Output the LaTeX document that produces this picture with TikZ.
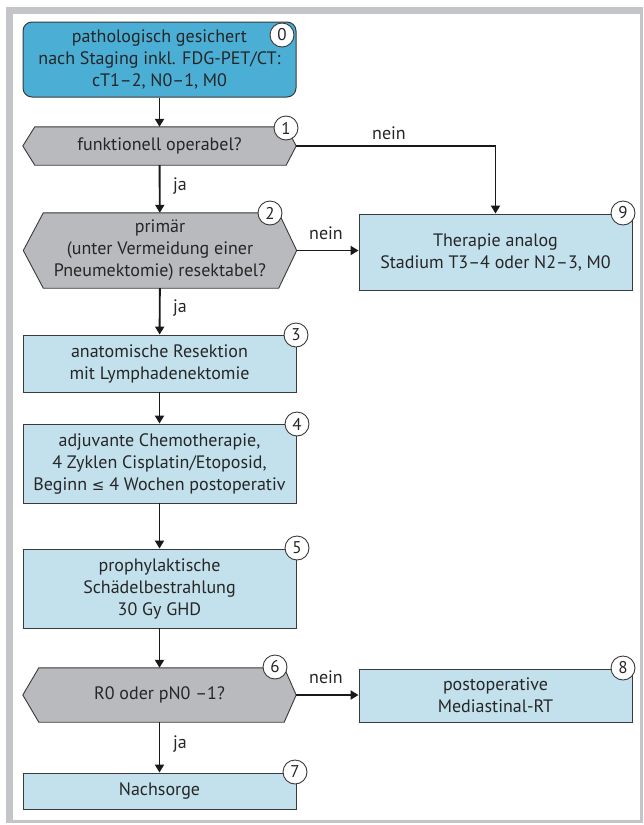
\documentclass[tikz,border=0pt]{standalone}
\usepackage{fontspec}
\setmainfont{PT Sans}
\newfontfamily\symfont{DejaVu Sans}
\usetikzlibrary{arrows.meta,backgrounds}
\definecolor{framegray}{HTML}{C4C5C8}
\definecolor{darkblue}{HTML}{4AAED5}
\definecolor{lightblue}{HTML}{C3E1ED}
\definecolor{hexgray}{HTML}{B9BABD}
\definecolor{txt}{HTML}{262626}
\definecolor{edge}{HTML}{3A3A3A}
\tikzset{
  every node/.style={text=txt, font=\fontsize{18}{22}\selectfont},
  box/.style={rectangle, draw=edge, line width=0.9pt, fill=lightblue, align=center, inner sep=0pt, minimum width=273pt},
  startbox/.style={rectangle, rounded corners=9pt, draw=edge, line width=1pt, fill=darkblue, align=center, inner sep=0pt, minimum width=273pt},
  hexbox/.style={rectangle, align=center, inner sep=0pt, minimum width=273pt},
  hexfill/.style={fill=hexgray, draw=edge, line width=0.9pt},
  numc/.style={circle, draw=edge, line width=0.9pt, fill=white, inner sep=0pt, minimum size=24pt, font=\fontsize{17}{17}\selectfont},
  arr/.style={draw=black!90, line width=1.9pt, -{Triangle[length=8pt,width=9pt]}},
  lbl/.style={inner sep=0pt},
}
\begin{document}
\begin{tikzpicture}[x=1pt,y=-1pt]
\useasboundingbox (0,0) rectangle (643,825);

\node[startbox, minimum height=75pt] (n0) at (159.5,59.5) {pathologisch gesichert\\nach Staging inkl. FDG-PET/CT:\\cT1–2, N0–1, M0};
\node[hexbox, minimum height=38pt] (n1) at (159.5,146) {funktionell operabel?};
\node[hexbox, minimum height=75pt] (n2) at (160,250.5) {primär\\(unter Vermeidung einer\\Pneumektomie) resektabel?};
\node[box, minimum height=57pt] (n3) at (159.5,363.5) {anatomische Resektion\\mit Lymphadenektomie};
\node[box, minimum height=79pt] (n4) at (159.5,463.5) {adjuvante Chemotherapie,\\4 Zyklen Cisplatin/Etoposid,\\Beginn {\symfont\fontsize{15}{22}\selectfont ≤} 4 Wochen postoperativ};
\node[box, minimum height=79pt] (n5) at (159.5,588.5) {prophylaktische\\Schädelbestrahlung\\30 Gy GHD};
\node[hexbox, minimum height=54pt] (n6) at (159.5,695) {R0 oder pN0 –1?};
\node[box, minimum height=36pt] (n7) at (159.5,791) {Nachsorge};
\node[box, minimum height=53pt] (n8) at (495.5,695.5) {postoperative\\Mediastinal-RT};
\node[box, minimum height=76pt] (n9) at (495.5,252) {Therapie analog\\Stadium T3–4 oder N2–3, M0};

\begin{scope}[on background layer]
\fill[framegray] (6,7) rectangle (643,823);
\fill[white] (13,14) rectangle (640,820);
\path[hexfill] (n1.west) -- ([xshift=12pt]n1.north west) -- ([xshift=-10pt]n1.north east) -- (n1.east) -- ([xshift=-10pt]n1.south east) -- ([xshift=12pt]n1.south west) -- cycle;
\path[hexfill] (n2.west) -- ([xshift=20pt]n2.north west) -- ([xshift=-18pt]n2.north east) -- (n2.east) -- ([xshift=-18pt]n2.south east) -- ([xshift=20pt]n2.south west) -- cycle;
\path[hexfill] (n6.west) -- ([xshift=16pt]n6.north west) -- ([xshift=-12pt]n6.north east) -- (n6.east) -- ([xshift=-12pt]n6.south east) -- ([xshift=16pt]n6.south west) -- cycle;
\end{scope}

\node[numc] (c0) at (282,35) {0};
\node[numc] (c1) at (286,128) {1};
\node[numc] (c2) at (270,213) {2};
\node[numc] (c3) at (296,335) {3};
\node[numc] (c4) at (297,424) {4};
\node[numc] (c5) at (297,548) {5};
\node[numc] (c6) at (275,667) {6};
\node[numc] (c7) at (295,772) {7};
\node[numc] (c8) at (623,668) {8};
\node[numc] (c9) at (623,213) {9};

\draw[arr] (n0) -- (n1);
\draw[arr] (n1) -- (n2);
\draw[arr] (n2) -- (n3);
\draw[arr] (n3) -- (n4);
\draw[arr] (n4) -- (n5);
\draw[arr] (n5) -- (n6);
\draw[arr] (n6) -- (n7);
\draw[arr] (n1.east) -| (n9.north);
\draw[arr] (n2.east) -- (n2.east -| n9.west);
\draw[arr] (n6.east) -- (n6.east -| n8.west);

\node[lbl] (l1) at (180,186) {ja};
\node[lbl] (l2) at (180,308) {ja};
\node[lbl] (l3) at (180,744) {ja};
\node[lbl] (l4) at (389,133) {nein};
\node[lbl] (l5) at (326,233) {nein};
\node[lbl] (l6) at (326,677) {nein};
\end{tikzpicture}
\end{document}
